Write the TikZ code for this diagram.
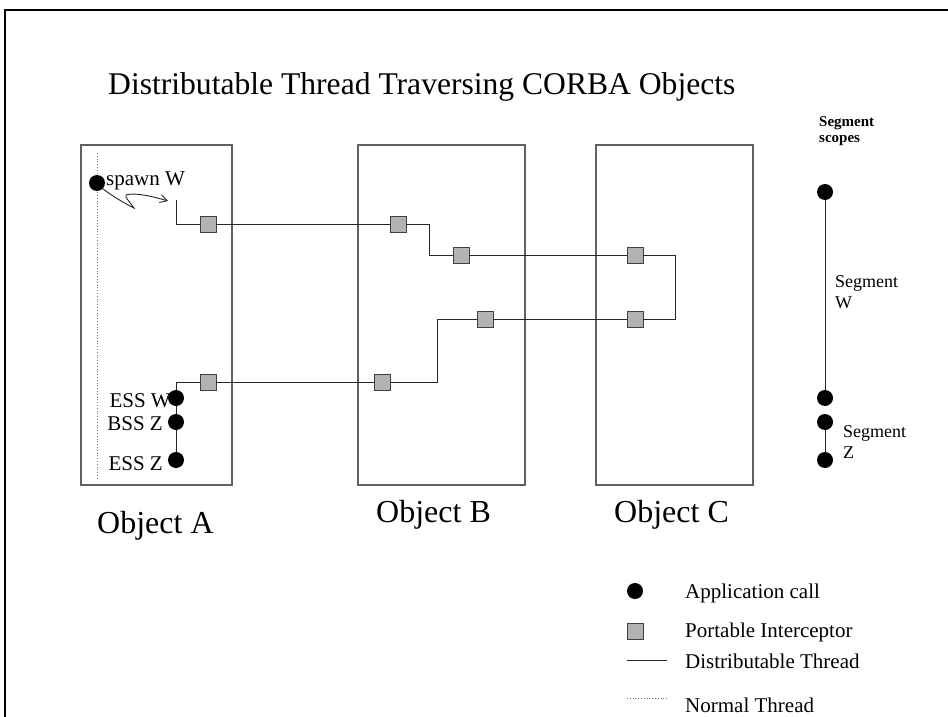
\documentclass[tikz,border=0pt]{standalone}
\usepackage{fontspec}
\setmainfont{Liberation Serif}
\usetikzlibrary{arrows.meta}
\begin{document}
\begin{tikzpicture}[x=1pt,y=-1pt,
  objbox/.style={draw=black!62, line width=1.4pt},
  pibox/.style={draw=black!75, fill=black!30, minimum size=16pt, inner sep=0pt, line width=0.9pt},
  call/.style={circle, fill=black, minimum size=16pt, inner sep=0pt},
  thr/.style={draw=black!85, line width=0.9pt},
  nthr/.style={draw=black!55, dotted, line width=0.8pt},
  lbl/.style={font=\fontsize{21}{25}\selectfont, inner sep=0pt},
  slbl/.style={font=\fontsize{18}{22}\selectfont, inner sep=0pt},
  bold/.style={font=\fontsize{15}{18}\selectfont\bfseries, inner sep=0pt},
  big/.style={font=\fontsize{32}{38}\selectfont, inner sep=0pt},
  ttl/.style={font=\fontsize{31.6}{38}\selectfont, inner sep=0pt}]

\useasboundingbox (0,0) rectangle (948,717);
\fill[white] (0,0) rectangle (948,717);
\draw[line width=2pt] (5,718) -- (5,10) -- (950,10);

% title
\node[ttl, anchor=base west] (title) at (108,94) {Distributable Thread Traversing CORBA Objects};

% object boxes
\draw[objbox] (81,145) rectangle (232,485);
\draw[objbox] (358,145) rectangle (525,485);
\draw[objbox] (596,145) rectangle (753,485);
\node[big, anchor=base west] (objA) at (97,533) {Object A};
\node[big, anchor=base west] (objB) at (376,522) {Object B};
\node[big, anchor=base west] (objC) at (614,522) {Object C};

% normal thread
\coordinate (ntop) at (97,153);
\coordinate (nbot) at (97,478);
\draw[nthr] (ntop) -- (nbot);

% spawn
\node[call] (spawn) at (97,183) {};
\node[lbl, anchor=base west] (spawnlbl) at (106,185) {spawn W};
\coordinate (sqend) at (168,201);
\draw[thr, -{Straight Barb[length=7pt,width=8pt]}] (spawn.south east)
  .. controls (118,200) and (130,206) .. (134,208)
  .. controls (131,203) and (124,197) .. (126,195)
  .. controls (135,192) and (155,197) .. (sqend);

% interceptors
\node[pibox] (piA1) at (208,224) {};
\node[pibox] (piB1) at (398,224) {};
\node[pibox] (piB2) at (461,255) {};
\node[pibox] (piC1) at (635,255) {};
\node[pibox] (piC2) at (635,319) {};
\node[pibox] (piB3) at (485,319) {};
\node[pibox] (piB4) at (382,382) {};
\node[pibox] (piA2) at (208,382) {};

% application calls in A
\node[call] (essw) at (176,398) {};
\node[call] (bssz) at (176,422) {};
\node[call] (essz) at (176,460) {};
\node[lbl, anchor=base east] (esswl) at (171,407) {ESS W};
\node[lbl, anchor=base east] (bsszl) at (163,430) {BSS Z};
\node[lbl, anchor=base east] (esszl) at (163,470) {ESS Z};

% thread corners
\coordinate (t0) at (176,200);
\coordinate (t1) at (176,224);
\coordinate (t2) at (429,224);
\coordinate (t3) at (429,255);
\coordinate (t4) at (675,255);
\coordinate (t5) at (675,319);
\coordinate (t6) at (437,319);
\coordinate (t7) at (437,382);
\coordinate (t8) at (176,382);

\draw[thr] (t0) -- (t1) -- (piA1) -- (piB1) -- (t2) -- (t3) -- (piB2) -- (piC1) -- (t4) -- (t5) -- (piC2) -- (piB3) -- (t6) -- (t7) -- (piB4) -- (piA2) -- (t8) -- (essw);
\draw[thr] (essw) -- (bssz) -- (essz);

% segment scopes
\node[bold, anchor=base west] (segh1) at (819,126) {Segment};
\node[bold, anchor=base west] (segh2) at (819,142) {scopes};
\node[call] (sw1) at (825,192) {};
\node[call] (sw2) at (825,398) {};
\node[call] (sz1) at (825,422) {};
\node[call] (sz2) at (825,460) {};
\draw[thr] (sw1) -- (sw2);
\draw[thr] (sz1) -- (sz2);
\node[slbl, anchor=base west] (segw1) at (835,287) {Segment};
\node[slbl, anchor=base west] (segw2) at (835,308) {W};
\node[slbl, anchor=base west] (segz1) at (843,437) {Segment};
\node[slbl, anchor=base west] (segz2) at (843,458) {Z};

% legend
\node[call] (lgcall) at (635,591) {};
\node[pibox] (lgpi) at (635,631) {};
\coordinate (lgd1) at (627,660);
\coordinate (lgd2) at (667,660);
\coordinate (lgn1) at (627,698);
\coordinate (lgn2) at (667,698);
\draw[thr] (lgd1) -- (lgd2);
\draw[nthr] (lgn1) -- (lgn2);
\node[lbl, anchor=base west] (lg1) at (685,598) {Application call};
\node[lbl, anchor=base west] (lg2) at (685,637) {Portable Interceptor};
\node[lbl, anchor=base west] (lg3) at (685,668) {Distributable Thread};
\node[lbl, anchor=base west] (lg4) at (685,712) {Normal Thread};
\end{tikzpicture}
\end{document}
